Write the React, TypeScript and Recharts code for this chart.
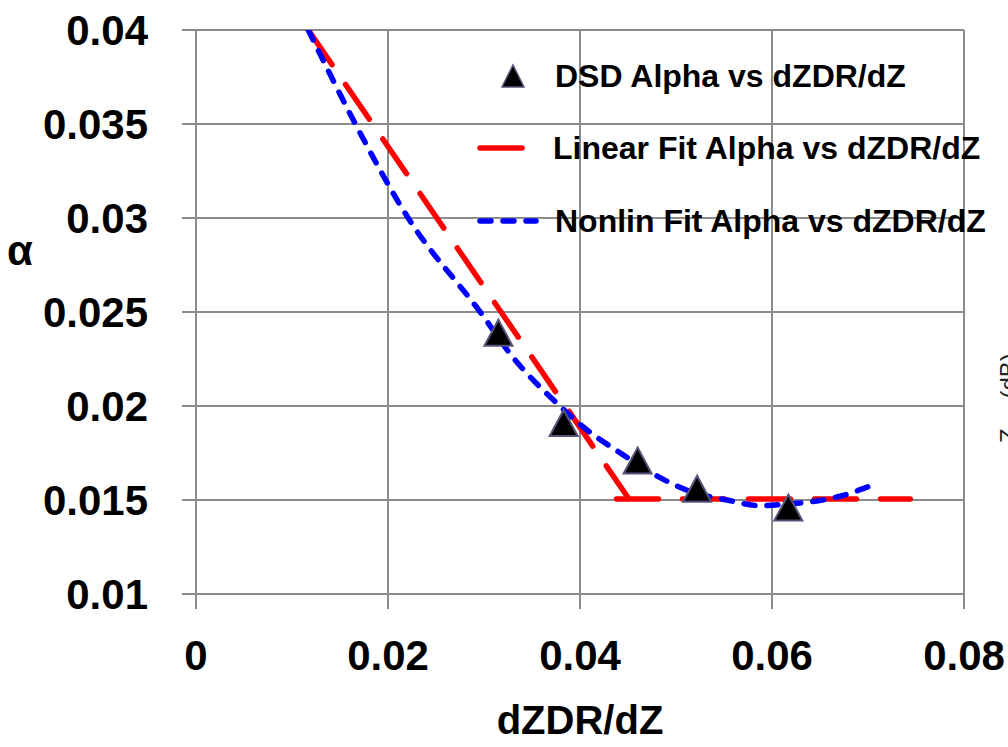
import { CartesianGrid, ComposedChart, Legend, Line, Scatter, XAxis, YAxis } from 'recharts'

const FONT = '"Liberation Sans", Arial, sans-serif'
const GRID = '#8c8c8c'

// DSD points
const dsdX = [0.0315, 0.0383, 0.046, 0.0522, 0.0617]
const dsdAlpha = [0.0239, 0.0191, 0.0171, 0.0156, 0.0146]

// piecewise linear fit: sloped part, a break, then the flat part
const linX = [0.0117, 0.0451, 0.0445, 0.0438, 0.0744]
const linAlpha = [0.04, 0.01505, null, 0.01505, 0.01505]

// nonlinear fit
const nonX = [0.0117, 0.0164, 0.0221, 0.0296, 0.033, 0.0379, 0.0403, 0.0442, 0.0483, 0.0518, 0.0553, 0.0588, 0.0619, 0.064, 0.0671, 0.07]
const nonAlpha = [0.04, 0.0352, 0.03, 0.025, 0.0226, 0.02, 0.0189, 0.0175, 0.0162, 0.0154, 0.015, 0.0147, 0.0148, 0.0149, 0.0152, 0.0157]

const xTicks = [0, 0.02, 0.04, 0.06, 0.08]
const yTicks = [0.01, 0.015, 0.02, 0.025, 0.03, 0.035, 0.04]

const names = ['DSD Alpha vs dZDR/dZ', 'Linear Fit Alpha vs dZDR/dZ', 'Nonlin Fit Alpha vs dZDR/dZ']

const dsdData = dsdX.map((x, i) => ({ x, alpha: dsdAlpha[i] }))
const linData = linX.map((x, i) => ({ x, alpha: linAlpha[i] }))
const nonData = nonX.map((x, i) => ({ x, alpha: nonAlpha[i] }))

const RED_DASH = '42 24'
const BLUE_DASH = '11 12'

function Triangle(props: any) {
  const { cx, cy } = props
  if (cx == null || cy == null) return null
  return (
    <path
      d={`M${cx},${cy - 13} L${cx + 14},${cy + 13} L${cx - 14},${cy + 13} Z`}
      fill="#000"
      stroke="#55557a"
      strokeWidth={2}
    />
  )
}

function LegendBox() {
  const rows = [76, 148, 221]
  return (
    <svg width={1008} height={747} style={{ overflow: 'visible' }}>
      <path d="M513,65 L524,87 L502,87 Z" fill="#000" stroke="#55557a" strokeWidth={1.5} />
      <line x1={480} y1={rows[1]} x2={545} y2={rows[1]} stroke="#ff0000" strokeWidth={5.5} strokeDasharray={RED_DASH} strokeLinecap="round" />
      <line x1={480} y1={rows[2]} x2={536} y2={rows[2]} stroke="#0000ff" strokeWidth={5.5} strokeDasharray={BLUE_DASH} strokeLinecap="round" />
      {names.map((n, i) => (
        <text key={n} x={i === 1 ? 553 : 555} y={rows[i] + 11} fontFamily={FONT} fontWeight="bold" fontSize={32} fill="#000">
          {n}
        </text>
      ))}
    </svg>
  )
}

function AlphaLabel() {
  return (
    <text x={20} y={250} textAnchor="middle" dominantBaseline="central" fontFamily={FONT} fontWeight="bold" fontSize={42} fill="#000">
      α
    </text>
  )
}

export default function App() {
  const tickStyle = { fontFamily: FONT, fontWeight: 'bold', fontSize: 42, fill: '#000' }
  return (
    <div style={{ position: 'absolute', left: 0, top: 0, width: 1008, height: 747, background: '#fff', overflow: 'hidden' }}>
      <ComposedChart width={1008} height={747} margin={{ top: 30, right: 44, bottom: 123, left: 136 }}>
        <CartesianGrid stroke={GRID} strokeWidth={2} />
        <XAxis
          type="number"
          dataKey="x"
          domain={[0, 0.08]}
          ticks={xTicks}
          height={30}
          tickSize={15}
          tickMargin={31}
          axisLine={{ stroke: GRID, strokeWidth: 2 }}
          tickLine={{ stroke: GRID, strokeWidth: 2 }}
          tick={tickStyle}
          allowDataOverflow
          label={{ value: 'dZDR/dZ', position: 'bottom', offset: 82, style: { fontFamily: FONT, fontWeight: 'bold', fontSize: 40, fill: '#000' } }}
        />
        <YAxis
          type="number"
          dataKey="alpha"
          domain={[0.01, 0.04]}
          ticks={yTicks}
          width={60}
          tickSize={14}
          tickMargin={34}
          axisLine={{ stroke: GRID, strokeWidth: 2 }}
          tickLine={{ stroke: GRID, strokeWidth: 2 }}
          tick={tickStyle}
          allowDataOverflow
          label={{ content: AlphaLabel }}
        />
        <Legend
          layout="vertical"
          align="center"
          verticalAlign="middle"
          content={LegendBox}
          wrapperStyle={{ position: 'absolute', left: 0, top: 0, width: 1008, height: 747, pointerEvents: 'none' }}
        />
        <Line
          data={linData}
          dataKey="alpha"
          name={names[1]}
          type="linear"
          stroke="#ff0000"
          strokeWidth={5.5}
          strokeDasharray={RED_DASH}
          strokeLinecap="round"
          connectNulls={false}
          dot={false}
          activeDot={false}
          isAnimationActive={false}
        />
        <Line
          data={nonData}
          dataKey="alpha"
          name={names[2]}
          type="monotone"
          stroke="#0000ff"
          strokeWidth={5.5}
          strokeDasharray={BLUE_DASH}
          strokeLinecap="round"
          dot={false}
          activeDot={false}
          isAnimationActive={false}
        />
        <Scatter data={dsdData} dataKey="alpha" name={names[0]} shape={Triangle} isAnimationActive={false} />
      </ComposedChart>
      <svg width={1008} height={747} style={{ position: 'absolute', left: 0, top: 0, pointerEvents: 'none' }}>
        <text x={1017} y={443} transform="rotate(-90 1017 443)" fontFamily={FONT} fontSize={24} fill="#222">
          Z<tspan fontSize={16} dy={8}>DR</tspan>
          <tspan dy={-8}>{'   (dB)'}</tspan>
        </text>
      </svg>
    </div>
  )
}
